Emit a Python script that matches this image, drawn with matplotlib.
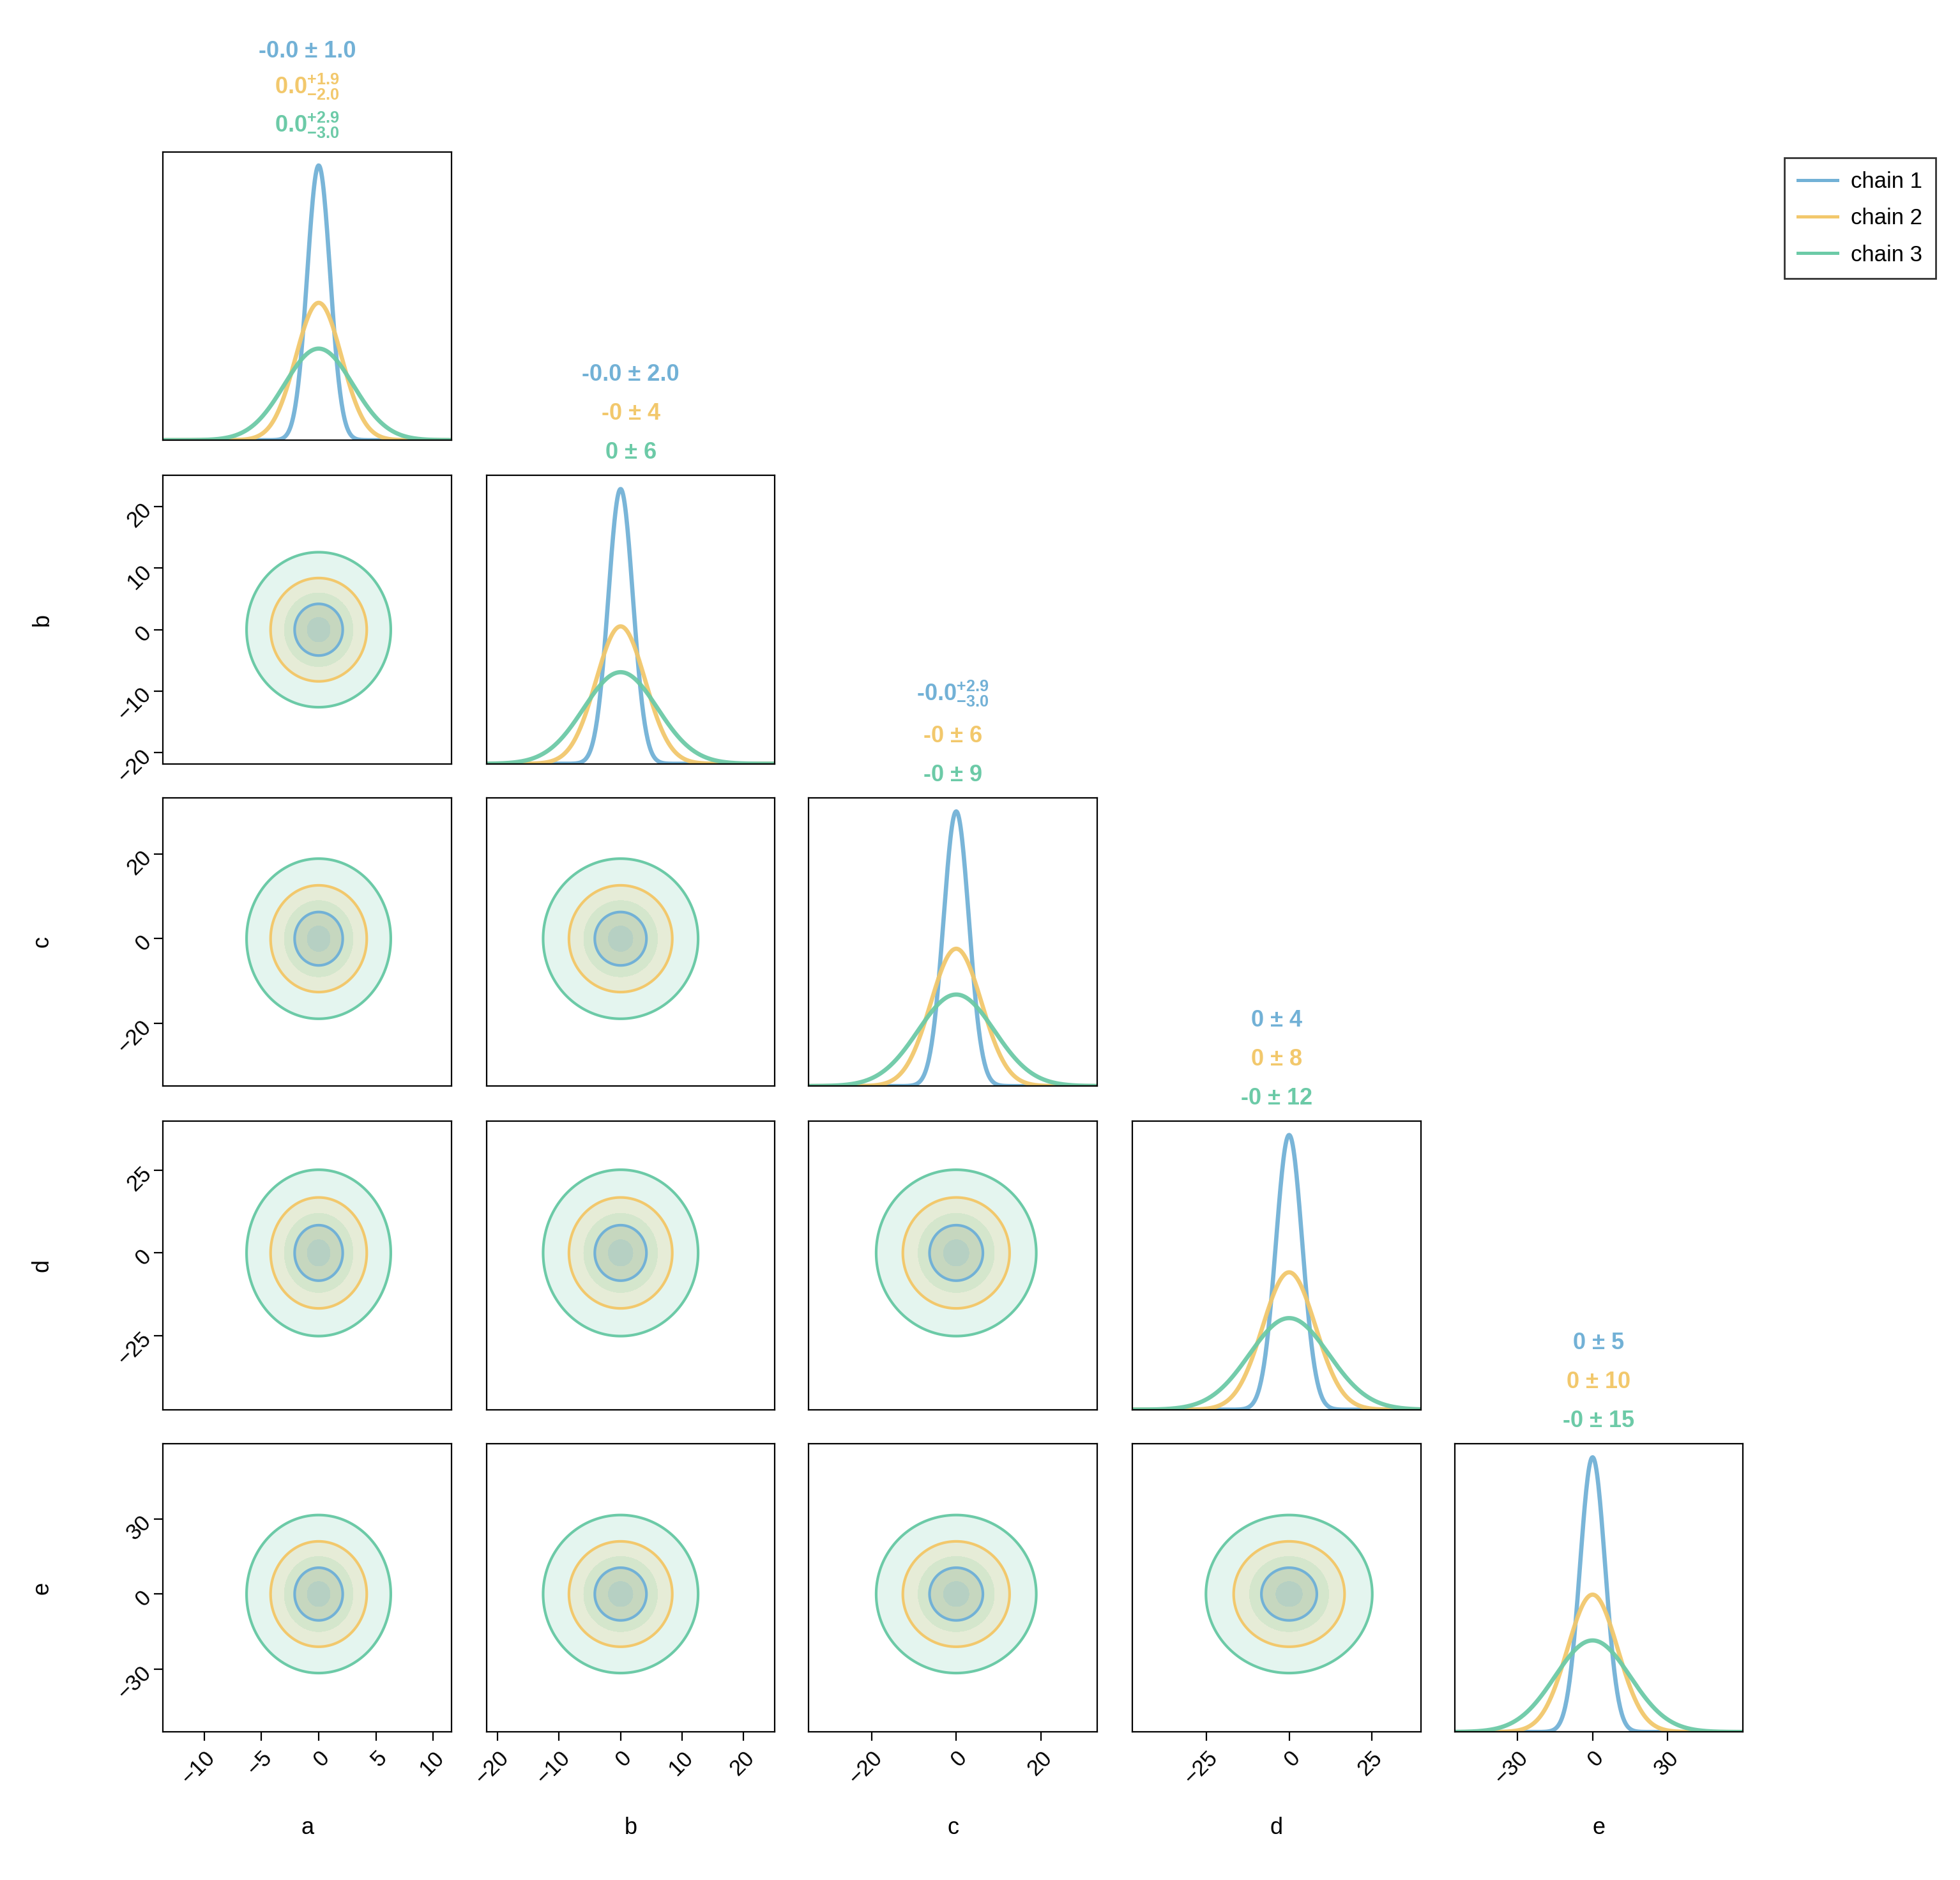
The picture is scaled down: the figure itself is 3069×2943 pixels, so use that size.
import numpy as np
import matplotlib
matplotlib.use("Agg")
import matplotlib.pyplot as plt
from matplotlib.lines import Line2D

names = ["a", "b", "c", "d", "e"]
chains = ["chain 1", "chain 2", "chain 3"]
colors = ["#72b1d6", "#f2c86c", "#6ccaa7"]
# standard deviations per variable (rows) per chain (cols), read from titles
sigmas = [[1.0, 2.0, 3.0], [2.0, 4.0, 6.0], [3.0, 6.0, 9.0], [4.0, 8.0, 12.0], [5.0, 10.0, 15.0]]
limits = [(-13.6, 11.6), (-21.8, 25.1), (-34.8, 33.3), (-47.5, 39.9), (-55, 60)]
ticks = [[-10, -5, 0, 5, 10], [-20, -10, 0, 10, 20], [-20, 0, 20], [-25, 0, 25], [-30, 0, 30]]
titles = [["-0.0 ± 1.0", r"0.0$^{+1.9}_{-2.0}$", r"0.0$^{+2.9}_{-3.0}$"],
          ["-0.0 ± 2.0", "-0 ± 4", "0 ± 6"],
          [r"-0.0$^{+2.9}_{-3.0}$", "-0 ± 6", "-0 ± 9"],
          ["0 ± 4", "0 ± 8", "-0 ± 12"],
          ["0 ± 5", "0 ± 10", "-0 ± 15"]]

plt.rcParams['font.family'] = ['Liberation Sans', 'DejaVu Sans']
plt.rcParams['mathtext.fontset'] = 'custom'
plt.rcParams['mathtext.rm'] = 'Liberation Sans:bold'
plt.rcParams['mathtext.it'] = 'Liberation Sans:bold'
plt.rcParams['mathtext.bf'] = 'Liberation Sans:bold'

W, H = 1563, 1499
fig = plt.figure(figsize=(3069/200, 2943/200), dpi=200)
xs = [130, 388, 645, 903, 1160]
ys = [121, 379, 636, 894, 1151]
size = 230

def ax_at(i, j):
    return fig.add_axes([xs[j]/W, 1-(ys[i]+size)/H, size/W, size/H])

for i in range(5):
    for j in range(i+1):
        ax = ax_at(i, j)
        ax.set_xlim(limits[j])
        if i == j:
            x = np.linspace(*limits[j], 400)
            mx = 0
            for k in range(3):
                s = sigmas[j][k]
                y = np.exp(-0.5*(x/s)**2)/(s*np.sqrt(2*np.pi))
                mx = max(mx, y.max())
                ax.plot(x, y, color=colors[k], lw=2.4, alpha=0.95)
            ax.set_ylim(0, mx*1.05)
            ax.set_yticks([])
            for k in range(3):
                ax.text(0.5, 1.04 + (2-k)*0.135, titles[j][k], transform=ax.transAxes,
                        ha='center', va='bottom', color=colors[k], fontsize=13, fontweight='bold')
        else:
            ax.set_ylim(limits[i])
            gx = np.linspace(*limits[j], 200)
            gy = np.linspace(*limits[i], 200)
            X, Y = np.meshgrid(gx, gy)
            for k in [2, 1, 0]:
                sx, sy = sigmas[j][k], sigmas[i][k]
                r = np.sqrt((X/sx)**2 + (Y/sy)**2)
                for lev in (2.1, 1.0):
                    ax.contourf(X, Y, r, levels=[0, lev], colors=[colors[k]],
                                alpha=0.18, antialiased=False)
                ax.contour(X, Y, r, levels=[2.1], colors=[colors[k]], linewidths=1.5)
            if j == 0:
                ax.set_yticks(ticks[i])
                ax.tick_params(axis='y', labelrotation=45)
                for lab in ax.get_yticklabels():
                    lab.set_va('center'); lab.set_ha('right'); lab.set_rotation_mode('anchor')
                ax.set_ylabel(names[i], fontsize=13, labelpad=34)
            else:
                ax.set_yticks([])
        if i == 4:
            ax.set_xticks(ticks[j])
            ax.tick_params(axis='x', labelrotation=45)
            for lab in ax.get_xticklabels():
                lab.set_ha('right'); lab.set_rotation_mode('anchor')
            ax.set_xlabel(names[j], fontsize=13, labelpad=16)
        else:
            ax.set_xticks([])
        ax.tick_params(labelsize=12.5, direction='out', length=5)

handles = [Line2D([], [], color=c, lw=1.8) for c in colors]
fig.legend(handles, chains, loc='upper left', bbox_to_anchor=(1414/W, 1-117/H),
           fontsize=12.5, frameon=True, fancybox=False, edgecolor='black', handlelength=1.8,
           labelspacing=0.7, borderpad=0.6, handletextpad=0.6)
fig.savefig("out.png", dpi=200)
